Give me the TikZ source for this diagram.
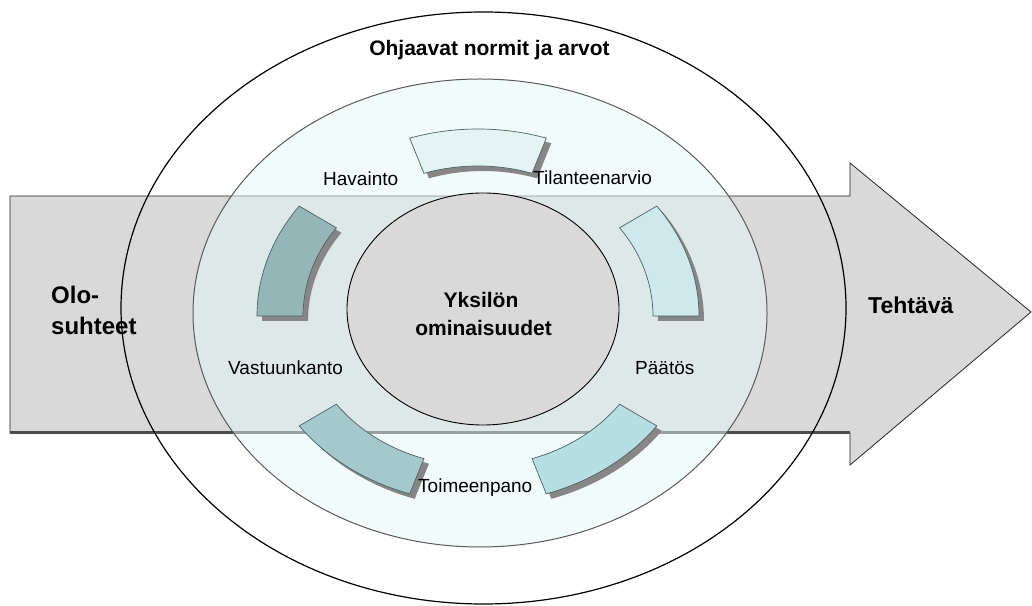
\documentclass[tikz,border=0pt]{standalone}
\usepackage{fontspec}
\setmainfont{Liberation Sans}
\definecolor{arrowgray}{HTML}{D9D9D9}
\definecolor{midcyan}{RGB}{228,248,248}
\definecolor{innergray}{HTML}{D9D9D9}
\definecolor{segA}{HTML}{E4F4F4}
\definecolor{segB}{HTML}{CDE9EB}
\definecolor{segC}{HTML}{B7DEE2}
\definecolor{segD}{HTML}{A5C9CB}
\definecolor{segE}{HTML}{95B6B7}
\definecolor{shadowgray}{HTML}{868686}
\definecolor{segline}{HTML}{4A6262}
\begin{document}
\begin{tikzpicture}[x=1pt,y=1pt,
  lbl/.style={font=\fontsize{19}{22}\selectfont, inner sep=0pt},
  blbl/.style={font=\fontsize{21}{26}\selectfont\bfseries, inner sep=0pt},
  arrowshape/.style={draw=black!85, fill=arrowgray, line width=0.8},
  ringline/.style={line width=1.2, draw=black},
  midring/.style={draw=black!65, line width=1, fill=midcyan, fill opacity=0.5},
  innerring/.style={draw=black, line width=0.9, fill=innergray},
  segshadow/.style={fill=shadowgray},
  segbox/.style={draw=segline, line width=0.7}]
\useasboundingbox (0,0) rectangle (1032,605);
\fill[white] (0,0) rectangle (1032,605);
% big arrow
\path[arrowshape] (10,172) -- (10,409) -- (850,409) -- (850,442) -- (1031,293) -- (850,140) -- (850,172) -- cycle;
\draw[line width=3, black!70] (10,172) -- (850,172);
% outer ellipse
\draw[ringline] (483.5,297) ellipse [x radius=362.5, y radius=296];
% middle ellipse (translucent)
\path[midring] (480,292) ellipse [x radius=287, y radius=234];
% inner ellipse
\path[innerring] (483,296) ellipse [x radius=136, y radius=116];
% ring segments
\foreach \a/\b/\c in {72/108/segA, 0/36/segB, 288/324/segC, 216/252/segD, 144/180/segE} {
  \fill[segshadow, shift={(483,284)}] (\a:221 and 187) arc[start angle=\a, end angle=\b, x radius=221, y radius=187]
     -- (\b:175 and 150) arc[start angle=\b, end angle=\a, x radius=175, y radius=150] -- cycle;
  \path[segbox, fill=\c, shift={(478,289)}] (\a:221 and 187) arc[start angle=\a, end angle=\b, x radius=221, y radius=187]
     -- (\b:175 and 150) arc[start angle=\b, end angle=\a, x radius=175, y radius=150] -- cycle;
}
% labels
\node[blbl, anchor=base] (norms) at (489.5,549) {Ohjaavat normit ja arvot};
\node[lbl, anchor=base west] (hav) at (323,419) {Havainto};
\node[lbl, anchor=base west] (til) at (533,420) {Tilanteenarvio};
\node[lbl, anchor=base west] (vas) at (228,230) {Vastuunkanto};
\node[lbl, anchor=base west] (paa) at (635,230) {Päätös};
\node[lbl, anchor=base west] (toi) at (418,113) {Toimeenpano};
\node[blbl, anchor=base] (yks1) at (481,297) {Yksilön};
\node[blbl, anchor=base] (yks2) at (483.5,269) {ominaisuudet};
\node[blbl, font=\fontsize{24}{28}\selectfont\bfseries, anchor=base west] (olo1) at (51,301) {Olo-};
\node[blbl, font=\fontsize{24}{28}\selectfont\bfseries, anchor=base west] (olo2) at (51,270) {suhteet};
\node[blbl, font=\fontsize{23}{27}\selectfont\bfseries, anchor=base west] (teh) at (868,291) {Tehtävä};
\end{tikzpicture}
\end{document}
